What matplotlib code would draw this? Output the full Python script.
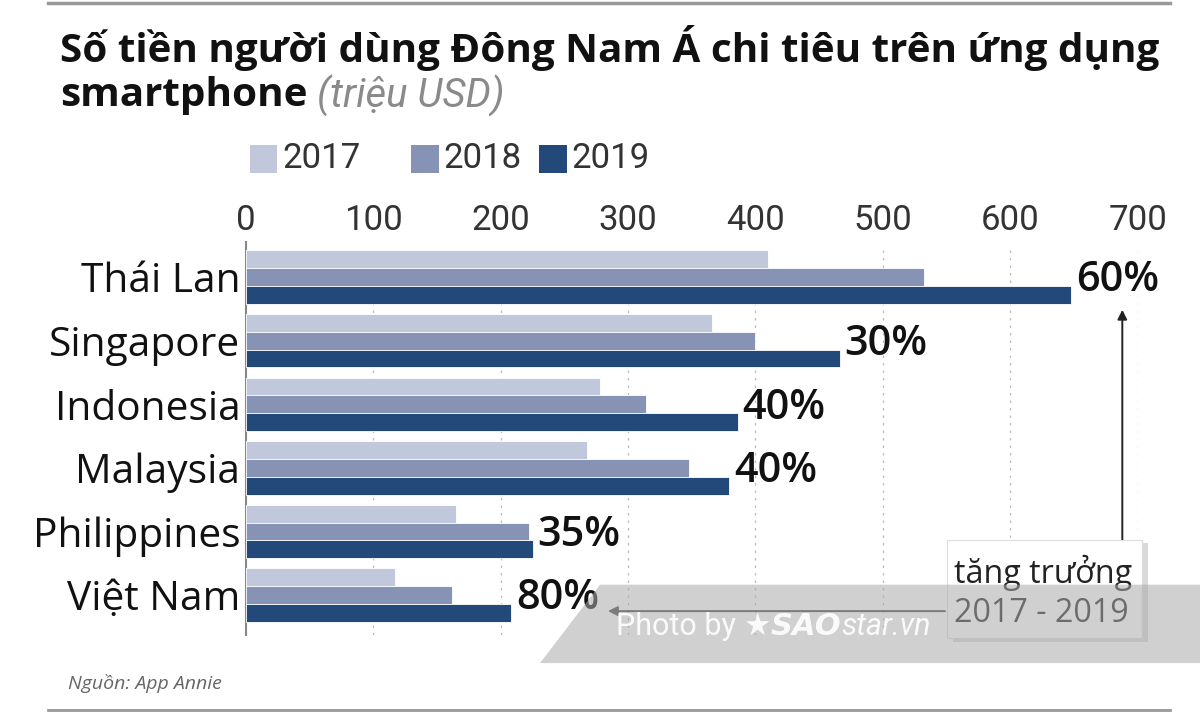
import numpy as np
import matplotlib
matplotlib.use("Agg")
import matplotlib.pyplot as plt
from matplotlib.patches import Rectangle, Polygon, FancyBboxPatch

# =========================================================
# Datos
# =========================================================

COUNTRIES = ["Thái Lan", "Singapore", "Indonesia", "Malaysia",
             "Philippines", "Việt Nam"]
YEARS = ["2017", "2018", "2019"]
V2017 = [410, 366, 278, 268, 165, 117]
V2018 = [532, 400, 314, 348, 222, 162]
V2019 = [648, 466, 386, 379, 225, 208]
GROWTH = ["60%", "30%", "40%", "40%", "35%", "80%"]
XTICKS = [0, 100, 200, 300, 400, 500, 600, 700]

COLORS = ["#c1c8dc", "#8793b4", "#23487a"]

WIDE_FONT = ["Open Sans", "DejaVu Sans"]
NARROW_FONT = ["Liberation Sans Narrow", "Roboto", "DejaVu Sans"]

plt.rcParams["font.family"] = WIDE_FONT

fig = plt.figure(figsize=(12, 7.13), dpi=100)
ax = fig.add_axes([0.205, 0.109, 0.743, 0.547])
renderer = fig.canvas.get_renderer()


def _fit(txt, target_px):
    """Ajusta el tamaño de fuente para que el texto mida target_px."""
    w = txt.get_window_extent(renderer).width
    txt.set_fontsize(txt.get_fontsize() * target_px / w)
    return txt.get_fontsize()


y = np.arange(len(COUNTRIES))
h = 0.28
for i, (vals, col) in enumerate(zip([V2017, V2018, V2019], COLORS)):
    ax.barh(y + (i - 1) * h, vals, height=h, color=col,
            edgecolor="white", linewidth=0.6, zorder=3)

pct_texts = []
for yi, v, g in zip(y, V2019, GROWTH):
    pct_texts.append(ax.text(v + 4, yi + 0.05, g, ha="left", va="center",
                             fontsize=22, fontweight="semibold",
                             color="#111111", zorder=5))
size = _fit(pct_texts[0], 83)
for t in pct_texts:
    t.set_fontsize(size)

ax.set_xlim(0, 700)
ax.set_ylim(5.63, -0.5)
ax.set_xticks(XTICKS)
ax.set_xticklabels([str(t) for t in XTICKS], family=NARROW_FONT,
                   fontsize=25, color="#333333")
ax.xaxis.tick_top()
ax.tick_params(axis="x", length=0, pad=6)
ax.set_yticks(y)
ylabels = ax.set_yticklabels(COUNTRIES, fontsize=23, color="#111111")
size = _fit(ylabels[4], 208)
ax.tick_params(axis="y", length=0, pad=4, labelsize=size)

for s in ["top", "right", "bottom"]:
    ax.spines[s].set_visible(False)
ax.spines["left"].set_color("#888888")
ax.spines["left"].set_linewidth(1.5)
ax.spines["left"].set_bounds(5.63, -0.55)

for t in XTICKS[1:]:
    ax.axvline(t, color="#bbbbbb", linestyle=(0, (2, 4)),
               linewidth=0.9, zorder=1)

# =========================================================
# Anotación de crecimiento
# =========================================================

ax.annotate("", xy=(688, 0.47), xytext=(688, 4.25),
            arrowprops=dict(arrowstyle="-|>", color="#222222", lw=1.4,
                            mutation_scale=14), zorder=4)
ax.annotate("", xy=(282, 5.25), xytext=(551, 5.25),
            arrowprops=dict(arrowstyle="-|>", color="#444444", lw=1.4,
                            mutation_scale=14), zorder=4)

shadow = FancyBboxPatch((0.794, 0.1), 0.163, 0.138,
                        boxstyle="square,pad=0", transform=fig.transFigure,
                        facecolor="#00000026", edgecolor="none", zorder=6)
box = FancyBboxPatch((0.789, 0.105), 0.163, 0.138,
                     boxstyle="square,pad=0", transform=fig.transFigure,
                     facecolor="white", edgecolor="#dddddd", lw=0.8,
                     zorder=7)
fig.patches.extend([shadow, box])
g1 = fig.text(0.795, 0.196, "tăng trưởng", fontsize=19, color="#222222",
              va="center", ha="left", zorder=8)
size = _fit(g1, 178)
fig.text(0.795, 0.14, "2017 - 2019", fontsize=size, color="#222222",
         va="center", ha="left", zorder=8)

# =========================================================
# Título y leyenda
# =========================================================

title = fig.text(0.05, 0.933,
                 "Số tiền người dùng Đông Nam Á chi tiêu trên ứng dụng",
                 fontsize=23, fontweight="bold", color="#111111",
                 va="center")
size = _fit(title, 1103)
t1 = fig.text(0.05, 0.866, "smartphone", fontsize=size, fontweight="bold",
              color="#111111", va="center")
bb = t1.get_window_extent(renderer).transformed(fig.transFigure.inverted())
sub = fig.text(bb.x1 + 0.008, 0.866, "(triệu USD)", fontsize=23,
               style="italic", color="#8a8a8a", va="center",
               family=NARROW_FONT)
_fit(sub, 188)

lx = [0.208, 0.3425, 0.4495]
for x0, yr, col in zip(lx, YEARS, COLORS):
    fig.patches.append(Rectangle((x0, 0.757), 0.023, 0.04,
                                 transform=fig.transFigure, facecolor=col,
                                 edgecolor="none"))
    fig.text(x0 + 0.027, 0.777, yr, fontsize=25, family=NARROW_FONT,
             color="#333333", va="center")

fig.text(0.057, 0.042, "Nguồn: App Annie", fontsize=14, style="italic",
         color="#666666", va="center")

fig.add_artist(plt.Line2D([0.04, 0.975], [0.996, 0.996], color="#999999",
                          lw=2.5, transform=fig.transFigure))
fig.add_artist(plt.Line2D([0.04, 0.975], [0.004, 0.004], color="#999999",
                          lw=2.0, transform=fig.transFigure))

# =========================================================
# Marca de agua
# =========================================================

wm = Polygon([(0.45, 0.07), (0.5, 0.18), (1.0, 0.18), (1.0, 0.07)],
             closed=True, transform=fig.transFigure, facecolor="#aaaaaa",
             alpha=0.55, edgecolor="none", zorder=9)
fig.patches.append(wm)
x_wm = 0.513
for s, kw in [("Photo by ", dict(family=NARROW_FONT)),
              ("★", dict(family=["DejaVu Sans"])),
              ("SAO", dict(family=["DejaVu Sans"], fontweight="bold",
                           style="italic")),
              ("star.vn", dict(family=NARROW_FONT, style="italic"))]:
    tw = fig.text(x_wm, 0.122, s, fontsize=22, color="white", va="center",
                  zorder=10, alpha=0.9, **kw)
    ext = tw.get_window_extent(renderer)
    x_wm += ext.width / fig.bbox.width

fig.savefig("out.png", dpi=100)
